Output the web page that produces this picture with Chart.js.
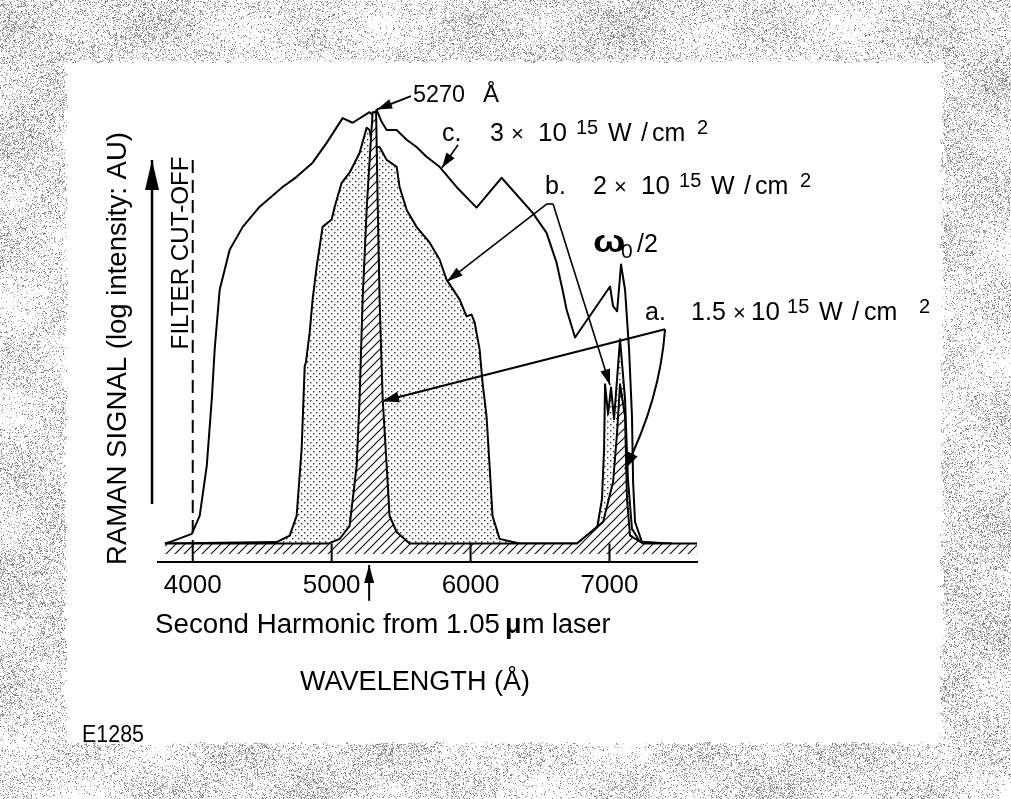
<!DOCTYPE html>
<html>
<head>
<meta charset="utf-8">
<script src="https://cdn.jsdelivr.net/npm/chart.js@4.4.1/dist/chart.umd.min.js"></script>
<style>
html, body { margin: 0; padding: 0; background: #fff; }
canvas { display: block; }
</style>
</head>
<body>
<canvas id="raman" width="1011" height="799"></canvas>
<script>
// wavelength (Angstrom) / log signal (AU, 0-100)
const lamC = [3800, 3835, 3993, 4050, 4101, 4137, 4158, 4194, 4266, 4360, 4482, 4647, 4748, 4863, 4964, 5079, 5151, 5273, 5300, 5324, 5360, 5396, 5468, 5540, 5611, 5683, 5777, 5899, 6043, 6223, 6446, 6547, 6619, 6662, 6691, 6752, 7004, 7026, 7055, 7083, 7112, 7141, 7162, 7170, 7184, 7234, 7450];
const sigC = [4, 4.3, 6.1, 10, 20.9, 35.4, 46.3, 59.3, 68, 73, 77.4, 81.7, 83.9, 87, 91.3, 96.7, 95.7, 98, 97.3, 98.5, 95.9, 94.1, 94.1, 92, 90.4, 88.3, 86.1, 81.7, 77.2, 83.7, 76.1, 71.7, 65.2, 59.3, 55, 48.9, 60, 55.7, 54.6, 64.8, 59.3, 46.3, 31.7, 17.4, 8.7, 4.3, 4];

const lamB = [3800, 4604, 4698, 4748, 4784, 4806, 4815, 4842, 4863, 4892, 4935, 5000, 5022, 5072, 5129, 5201, 5252, 5273, 5295, 5345, 5396, 5468, 5489, 5540, 5611, 5705, 5777, 5827, 5921, 5971, 6007, 6029, 6065, 6086, 6115, 6137, 6158, 6209, 6353, 6766, 6910, 6946, 6961, 6968, 6990, 7011, 7033, 7076, 7112, 7133, 7162, 7220, 7400];
const sigB = [4, 4.3, 5.7, 10, 24.6, 42.6, 43.5, 50, 57.2, 64.3, 73, 74.6, 77.4, 82.6, 84.8, 89.1, 94.6, 94.1, 90.4, 90.4, 87.6, 86.1, 81.7, 76.7, 73, 69.6, 65.9, 61.5, 57.2, 53.5, 53.9, 52.2, 46.3, 39.1, 31.7, 20.9, 10, 5, 4, 4, 7.2, 13.7, 24.6, 38.7, 32.2, 38, 31.1, 48.5, 35.4, 18, 7.2, 4.3, 4];

const lamA = [3800, 4980, 5058, 5129, 5180, 5201, 5223, 5252, 5266, 5295, 5320, 5331, 5345, 5367, 5396, 5417, 5468, 5561, 6766, 6954, 7026, 7055, 7076, 7112, 7126, 7148, 7241, 7630];
const sigA = [4, 4, 5, 7.8, 20.9, 35.4, 57.2, 76.7, 83.9, 98, 98, 78.9, 57.4, 35.7, 21, 10, 6.5, 4, 4, 8.7, 17.4, 28.3, 38.7, 31.7, 13.7, 5.7, 4, 4];

const tickVals = [4000, 5000, 6000, 7000];
const BASE = 4;

const FONT = '"Liberation Sans", Arial, Helvetica, sans-serif';

function pts(xs, ys) {
    return xs.map((x, i) => ({ x: x, y: ys[i] }));
}

// fill patterns
function dotPattern() {
    const c = document.createElement("canvas");
    c.width = 6; c.height = 6;
    const g = c.getContext("2d");
    g.fillStyle = "#fff";
    g.fillRect(0, 0, 6, 6);
    g.fillStyle = "#333";
    g.fillRect(1, 1, 1.4, 1.4);
    g.fillRect(4, 4, 1.4, 1.4);
    return g.createPattern(c, "repeat");
}

function hatchPattern() {
    const c = document.createElement("canvas");
    c.width = 9; c.height = 9;
    const g = c.getContext("2d");
    g.fillStyle = "#fff";
    g.fillRect(0, 0, 9, 9);
    g.strokeStyle = "#111";
    g.lineWidth = 1.2;
    g.beginPath();
    g.moveTo(0, 9); g.lineTo(9, 0);
    g.moveTo(-1, 1); g.lineTo(1, -1);
    g.moveTo(8, 10); g.lineTo(10, 8);
    g.stroke();
    return g.createPattern(c, "repeat");
}

function hash(x, y) {
    let n = Math.imul(x, 374761393) + Math.imul(y, 668265263);
    n = Math.imul(n ^ (n >>> 13), 1274126177);
    n = n ^ (n >>> 16);
    return (n >>> 0) / 4294967296;
}

// grey stipple round the page, like the scanned original
function makeFrame(w, h) {
    const c = document.createElement("canvas");
    c.width = w; c.height = h;
    const g = c.getContext("2d");
    const img = g.createImageData(w, h);
    const d = img.data;
    for (let y = 0; y < h; y++) {
        const jl = 64 + Math.floor(hash(3, y >> 2) * 5);
        const jr = 944 - Math.floor(hash(7, y >> 2) * 5);
        for (let x = 0; x < w; x++) {
            const jt = 60 + Math.floor(hash(x >> 2, 11) * 4);
            const jb = 745 - Math.floor(hash(x >> 2, 13) * 4);
            let v = 255;
            if (!(x >= jl && x < jr && y >= jt && y < jb)) {
                const dens = 0.25 + 0.13 * Math.sin(x * 0.041 + 1.3) * Math.sin(y * 0.057) + 0.07 * Math.sin((x + y) * 0.013);
                if (hash(x, y) < dens) v = 110 + Math.floor(hash(y + 17, x + 5) * 110);
            }
            const k = (y * w + x) * 4;
            d[k] = v; d[k + 1] = v; d[k + 2] = v; d[k + 3] = 255;
        }
    }
    g.putImageData(img, 0, 0);
    return c;
}

function put(ctx, s, x, y, size, o) {
    o = o || {};
    ctx.save();
    ctx.font = (o.bold ? "bold " : "") + size + "px " + FONT;
    ctx.fillStyle = "#000";
    ctx.textBaseline = "alphabetic";
    ctx.textAlign = "left";
    ctx.translate(x, y);
    if (o.rot) ctx.rotate(o.rot);
    if (o.w) ctx.scale(o.w / ctx.measureText(s).width, 1);
    else if (o.sx) ctx.scale(o.sx, 1);
    ctx.fillText(s, 0, 0);
    ctx.restore();
}

function head(ctx, fx, fy, tx, ty, len, half) {
    const a = Math.atan2(ty - fy, tx - fx);
    ctx.beginPath();
    ctx.moveTo(tx, ty);
    ctx.lineTo(tx - len * Math.cos(a) + half * Math.sin(a), ty - len * Math.sin(a) - half * Math.cos(a));
    ctx.lineTo(tx - len * Math.cos(a) - half * Math.sin(a), ty - len * Math.sin(a) + half * Math.cos(a));
    ctx.closePath();
    ctx.fill();
}

function arrow(ctx, p, q, lw, len, half) {
    ctx.lineWidth = lw;
    ctx.beginPath();
    ctx.moveTo(p[0], p[1]);
    ctx.lineTo(q[0], q[1]);
    ctx.stroke();
    head(ctx, p[0], p[1], q[0], q[1], len, half);
}

// "x.  N x 10^15 W/cm^2" pieces: dx, text, size, raise
function powerLabel(tag, num, wide) {
    const s = wide ? [46, 88, 106, 142, 174, 207, 219, 274] : [48, 69, 96, 134, 166, 199, 210, 255];
    return [[0, tag, 25, 0], [s[0], num, 25, 0], [s[1], "×", 22, 0], [s[2], "10", 26, 0], [s[3], "15", 20, 7],
        [s[4], "W", 25, 0], [s[5], "/", 25, 0], [s[6], "cm", 25, 0], [s[7], "2", 20, 7]];
}

const frame = makeFrame(1011, 799);

const paper = {
    id: "paper",
    beforeDraw(chart) {
        const ctx = chart.ctx;
        ctx.save();
        ctx.fillStyle = "#fff";
        ctx.fillRect(0, 0, chart.width, chart.height);
        ctx.drawImage(frame, 0, 0);
        ctx.restore();
    },
    afterDraw(chart) {
        const ctx = chart.ctx;
        const xs = chart.scales.x, ys = chart.scales.y;
        const at = (l, s) => [xs.getPixelForValue(l), ys.getPixelForValue(s)];
        ctx.save();
        ctx.strokeStyle = "#000";
        ctx.fillStyle = "#000";
        ctx.lineCap = "butt";

        // inward tick marks
        ctx.lineWidth = 2;
        tickVals.forEach((v) => {
            const p = at(v, 0), q = at(v, BASE);
            ctx.beginPath();
            ctx.moveTo(p[0], p[1]);
            ctx.lineTo(q[0], q[1]);
            ctx.stroke();
        });

        // filter cut-off
        ctx.setLineDash([13, 7]);
        let p = at(4000, 87.6), q = at(4000, BASE);
        ctx.beginPath();
        ctx.moveTo(p[0], p[1]);
        ctx.lineTo(q[0], q[1]);
        ctx.stroke();
        ctx.setLineDash([]);
        p = at(3966, 46.3);
        put(ctx, "FILTER CUT-OFF", p[0], p[1], 24, { rot: -Math.PI / 2, w: 193 });

        // signal axis arrow
        arrow(ctx, at(3707, 12.6), at(3707, 87.6), 2.5, 30, 7);

        // 5270 A
        arrow(ctx, at(5571, 101.5), at(5327, 98.6), 2, 15, 5);
        p = at(5586, 100.2);
        put(ctx, "5270", p[0], p[1], 24, { w: 52 });
        put(ctx, "Å", p[0] + 70, p[1], 24);

        // intensity labels
        [[powerLabel("c.", "3", false), 5794, 91.7], [powerLabel("b.", "2", false), 6536, 80.2],
            [powerLabel("a.", "1.5", true), 7256, 52.8]].forEach((L) => {
            const o = at(L[1], L[2]);
            L[0].forEach((k) => put(ctx, k[1], o[0] + k[0], o[1] - k[3], k[2]));
        });

        // c arrow
        arrow(ctx, at(5910, 90.9), at(5794, 85.9), 1.6, 15, 5);

        // b bracket
        const b1 = at(6550, 78.0), b2 = at(6594, 78.0);
        ctx.lineWidth = 1.6;
        ctx.beginPath();
        ctx.moveTo(b1[0], b1[1]);
        ctx.lineTo(b2[0], b2[1]);
        ctx.stroke();
        arrow(ctx, b1, at(5830, 61.1), 1.6, 16, 5);
        arrow(ctx, b2, at(7004, 38.5), 1.6, 16, 5);

        // omega_0 / 2
        p = at(6882, 67.6);
        put(ctx, "ω", p[0], p[1], 32, { bold: true, sx: 1.2 });
        put(ctx, "0", p[0] + 28, p[1] + 6, 21);
        put(ctx, "/2", p[0] + 44, p[1], 25);

        // a bracket
        const av = at(7400, 50.7);
        arrow(ctx, av, at(5363, 35.0), 2, 17, 5.5);
        const cp = at(7364, 35.4), tip = at(7112, 20.2);
        ctx.lineWidth = 2;
        ctx.beginPath();
        ctx.moveTo(av[0], av[1]);
        ctx.quadraticCurveTo(cp[0], cp[1], tip[0], tip[1]);
        ctx.stroke();
        head(ctx, cp[0], cp[1], tip[0], tip[1], 17, 5.5);

        // second harmonic marker under the axis
        arrow(ctx, at(5270, -8.5), at(5270, -0.7), 2, 18, 5);

        // page texts
        put(ctx, "RAMAN SIGNAL (log intensity: AU)", 126, 565, 27, { rot: -Math.PI / 2, w: 433 });
        put(ctx, "Second Harmonic from 1.05", 155, 633, 27, { w: 345 });
        put(ctx, "μ", 505, 633, 27, { bold: true });
        put(ctx, "m laser", 522, 633, 27);
        put(ctx, "WAVELENGTH (Å)", 300, 690, 27, { w: 230 });
        put(ctx, "E1285", 82, 742, 24, { w: 62 });
        ctx.restore();
    }
};

new Chart(document.getElementById("raman"), {
    type: "line",
    data: {
        datasets: [
            {
                label: "a. 1.5 x 10^15 W/cm2",
                data: pts(lamA, sigA),
                borderColor: "#000",
                borderWidth: 2,
                backgroundColor: hatchPattern(),
                fill: { value: 1.7 },
                order: 1,
            },
            {
                label: "b. 2 x 10^15 W/cm2",
                data: pts(lamB, sigB),
                borderColor: "#000",
                borderWidth: 2,
                backgroundColor: dotPattern(),
                fill: { value: BASE },
                order: 2,
            },
            {
                label: "c. 3 x 10^15 W/cm2",
                data: pts(lamC, sigC),
                borderColor: "#000",
                borderWidth: 2,
                fill: false,
                order: 3,
            },
        ],
    },
    options: {
        responsive: false,
        animation: false,
        devicePixelRatio: 1,
        layout: { padding: { left: 158, right: 314, top: 103, bottom: 190 } },
        elements: { point: { radius: 0 }, line: { tension: 0, borderJoinStyle: "round" } },
        plugins: { legend: { display: false }, tooltip: { enabled: false } },
        scales: {
            x: {
                type: "linear",
                min: 3750,
                max: 7630,
                afterBuildTicks: (s) => { s.ticks = tickVals.map((v) => ({ value: v })); },
                grid: { display: false, drawTicks: false },
                border: { display: true, color: "#000", width: 2 },
                ticks: {
                    color: "#000",
                    padding: 8,
                    maxRotation: 0,
                    autoSkip: false,
                    font: { family: FONT, size: 26 },
                    callback: (v) => String(v),
                },
            },
            y: { display: false, min: 0, max: 100 },
        },
    },
    plugins: [paper],
});
</script>
</body>
</html>
